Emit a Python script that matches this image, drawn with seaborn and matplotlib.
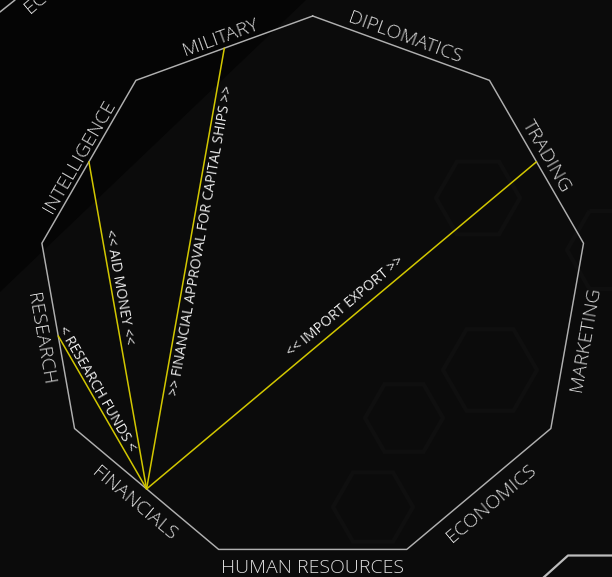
import numpy as np
import pandas as pd
import matplotlib
matplotlib.use("Agg")
import matplotlib.pyplot as plt
from matplotlib.patches import Polygon, RegularPolygon
import seaborn as sns

# ---------------- data ----------------
categories = ["DIPLOMATICS", "TRADING", "MARKETING", "ECONOMICS", "HUMAN RESOURCES",
              "FINANCIALS", "RESEARCH", "INTELLIGENCE", "MILITARY"]
link_source = ["FINANCIALS", "FINANCIALS", "FINANCIALS", "FINANCIALS"]
link_target = ["TRADING", "MILITARY", "INTELLIGENCE", "RESEARCH"]
link_labels = ["<< IMPORT EXPORT >>",
               ">> FINANCIAL APPROVAL FOR CAPITAL SHIPS >>",
               "<< AID MONEY <<",
               "< RESEARCH FUNDS <"]

# ---------------- layout / style ----------------
label_frac = [0.53, 0.568, 0.615, 0.63]
label_off = [13.4, -9.5, 8.9, 8.7]

sns.set_theme(style="dark")
plt.rcParams['font.family'] = ['Open Sans', 'DejaVu Sans']

W, H = 612, 577
CX, CY = 312.7, 291.0
R = 275.0
BG = '#0b0b0b'
EDGE = '#b0b0b0'
LABEL = '#dcdcdc'
YEL = '#d2c700'

fig = plt.figure(figsize=(W / 100, H / 100), dpi=100)
fig.patch.set_facecolor(BG)
ax = fig.add_axes([0, 0, 1, 1])
ax.set_xlim(-CX, W - CX)
ax.set_ylim(-(H - CY), CY)
ax.set_axis_off()


def px(x, y):
    return (x - CX, CY - y)


# background: darker top-left triangle
ax.add_patch(Polygon([px(0, 0), px(306, 0), px(0, 292)], closed=True,
                     facecolor='#050505', edgecolor='none', zorder=0))
# very faint hexagons
for (hx, hy, hr) in [(478, 198, 42), (490, 370, 47), (404, 418, 39), (373, 507, 40), (612, 250, 45)]:
    ax.add_patch(RegularPolygon(px(hx, hy), 6, radius=hr, orientation=np.pi / 6,
                                facecolor='none', edgecolor='#0f0f0f', lw=3, zorder=0.5))

# neighbouring chart fragments
ax.plot(*zip(px(0, 12), px(15, 0)), color=EDGE, lw=1.1, zorder=1)
ax.text(*px(30, 14), "ECONOMICS", rotation=40, rotation_mode='anchor', ha='left',
        va='baseline', color=LABEL, fontsize=14, fontweight='light', zorder=2)
ax.plot(*zip(px(543, 578), px(568, 555.5), px(613, 555.5)), color='#bdbdbd', lw=1.6, zorder=1)

# ---------------- polygon ----------------
n = len(categories)
vang = np.deg2rad(90 - 40 * np.arange(n + 1))
vx = R * np.cos(vang)
vy = R * np.sin(vang)
poly_df = pd.DataFrame({'x': vx, 'y': vy, 'order': np.arange(n + 1)})
sns.lineplot(data=poly_df, x='x', y='y', sort=False, estimator=None, color=EDGE,
             lw=1.05, ax=ax, legend=False, zorder=2)

apothem = R * np.cos(np.deg2rad(20))
mid = {}
for i, cat in enumerate(categories):
    nang = 90 - 40 * i - 20
    mid[cat] = (apothem * np.cos(np.deg2rad(nang)), apothem * np.sin(np.deg2rad(nang)), nang)

fs_edge = 14
cap_edge = 0.714 * fs_edge * 100 / 72
for cat in categories:
    mx, my, nang = mid[cat]
    d = nang - 90
    rot = ((d + 90) % 180) - 90
    up = np.deg2rad(rot + 90)
    nrm = np.deg2rad(nang)
    dot = np.cos(up) * np.cos(nrm) + np.sin(up) * np.sin(nrm)
    off = 12.8 if dot > 0 else 16.8
    cx = mx + off * np.cos(nrm)
    cy = my + off * np.sin(nrm)
    bx = cx - np.cos(up) * cap_edge / 2
    by = cy - np.sin(up) * cap_edge / 2
    ax.text(bx, by, cat, rotation=rot, rotation_mode='anchor', ha='center', va='baseline',
            color=LABEL, fontsize=fs_edge, fontweight='light', zorder=3)

# ---------------- links ----------------
rows = []
for k, (s, t) in enumerate(zip(link_source, link_target)):
    rows.append({'link': k, 'x': mid[s][0], 'y': mid[s][1], 'p': 0})
    rows.append({'link': k, 'x': mid[t][0], 'y': mid[t][1], 'p': 1})
link_df = pd.DataFrame(rows)
sns.lineplot(data=link_df, x='x', y='y', units='link', estimator=None, sort=False,
             color=YEL, lw=1.1, ax=ax, legend=False, zorder=2.5)

fs_link = 10.2
cap_link = 0.714 * fs_link * 100 / 72
for k, (s, t, lab) in enumerate(zip(link_source, link_target, link_labels)):
    sx, sy = mid[s][0], mid[s][1]
    tx, ty = mid[t][0], mid[t][1]
    ang = np.degrees(np.arctan2(ty - sy, tx - sx))
    rot = ((ang + 90) % 180) - 90
    up = np.deg2rad(rot + 90)
    f = label_frac[k]
    cx = sx + f * (tx - sx) + label_off[k] * np.cos(up)
    cy = sy + f * (ty - sy) + label_off[k] * np.sin(up)
    bx = cx - np.cos(up) * cap_link / 2
    by = cy - np.sin(up) * cap_link / 2
    ax.text(bx, by, lab, rotation=rot, rotation_mode='anchor', ha='center', va='baseline',
            color='#ececec', fontsize=fs_link, zorder=3)

fig.savefig("out.png", dpi=100, facecolor=fig.get_facecolor())
